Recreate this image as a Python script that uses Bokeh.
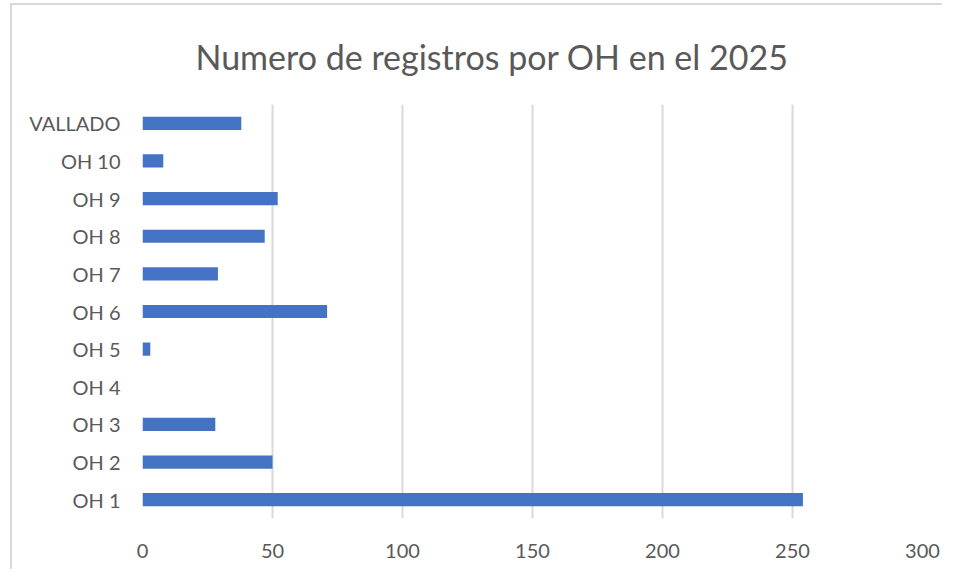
from bokeh.plotting import figure
from bokeh.models import Range1d, FactorRange, FixedTicker
from bokeh.embed import file_html
from bokeh.resources import INLINE

categories = ["OH 1", "OH 2", "OH 3", "OH 4", "OH 5", "OH 6", "OH 7", "OH 8", "OH 9", "OH 10", "VALLADO"]
values = [254, 50, 28, 0, 3, 71, 29, 47, 52, 8, 38]
x_ticks = [0, 50, 100, 150, 200, 250, 300]
title_text = "Numero de registros por OH en el 2025"

W, H = 936, 566
OX, OY = 12, 5          # canvas origin on the page
FL, FR, FT, FB = 142, 922, 104, 518   # frame edges on the page
p = figure(width=W, height=H, output_backend="svg", toolbar_location=None,
           x_range=Range1d(0, 300), y_range=FactorRange(factors=categories),
           min_border_left=FL - OX, min_border_right=W - (FR - OX), min_border_top=FT - OY,
           min_border_bottom=H - (FB - OY),
           styles={"transform": "translate(12px, 5px)",
                   "box-shadow": "-2px -2px 0 0 #d9d9d9",
                   "clip-path": "inset(-4px 6px 0px -4px)"})
p.outline_line_color = None
p.background_fill_color = "white"
p.border_fill_color = "white"

p.hbar(y=categories, right=values, left=0, height=0.35, fill_color="#4472C4", line_color=None)

p.xgrid.ticker = FixedTicker(ticks=x_ticks)
p.xgrid.grid_line_color = "#d9d9d9"
p.xgrid.grid_line_width = 2
p.ygrid.grid_line_color = None

p.xaxis.ticker = FixedTicker(ticks=x_ticks)
for ax in (p.xaxis[0], p.yaxis[0]):
    ax.axis_line_color = None
    ax.major_tick_line_color = None
    ax.minor_tick_line_color = None
    ax.major_tick_out = 0
    ax.major_tick_in = 0
    ax.major_label_text_font = "Lato"
    ax.major_label_text_font_size = "20px"
    ax.major_label_text_color = "#595959"
p.xaxis.major_label_standoff = 25
p.yaxis.major_label_standoff = 22

p.title.text = title_text
p.title.align = "left"
p.title.offset = 195 - FL
p.title.standoff = 56
p.title.text_font = "Lato"
p.title.text_font_size = "34px"
p.title.text_font_style = "normal"
p.title.text_color = "#595959"

open("out.html", "w").write(file_html(p, INLINE))
